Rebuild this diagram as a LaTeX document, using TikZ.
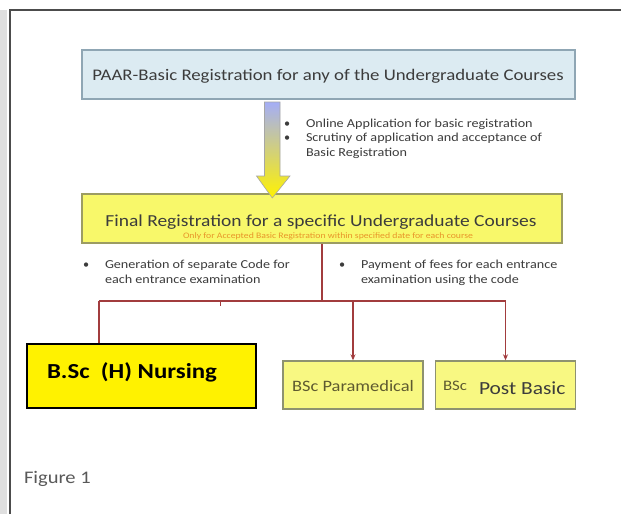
\documentclass[tikz,border=0pt]{standalone}
\usepackage{fontspec}
\usepackage{graphicx}
\setmainfont{Carlito}
\usetikzlibrary{arrows.meta,calc}
\definecolor{boxblue}{HTML}{DCEBF2}
\definecolor{boxblueline}{HTML}{8FA6B4}
\definecolor{finalfill}{HTML}{F8F86A}
\definecolor{finalline}{HTML}{9C9C62}
\definecolor{paleyellow}{HTML}{F8F882}
\definecolor{paleline}{HTML}{8E9270}
\definecolor{conn}{HTML}{A23C3E}
\definecolor{txt}{HTML}{3C3C3C}
\definecolor{subtxt}{HTML}{E8962A}
\definecolor{olivetxt}{HTML}{5E5A30}
\newcommand{\wx}[1]{\scalebox{1.16}[1]{#1}}
\tikzset{
  px/.style={x=1pt,y=-1pt},
  plain/.style={inner sep=0pt,outer sep=0pt},
  bluebox/.style={draw=boxblueline,line width=1.4pt,fill=boxblue,minimum width=493pt,minimum height=49pt,inner sep=0pt},
  finalbox/.style={draw=finalline,line width=1.8pt,fill=finalfill,minimum width=480pt,minimum height=49pt,inner sep=0pt},
  nursebox/.style={draw=black,line width=1.5pt,fill=yellow,minimum width=229pt,minimum height=64pt,inner sep=0pt},
  coursebox/.style={draw=paleline,line width=1.4pt,fill=paleyellow,minimum width=140pt,minimum height=48pt,inner sep=0pt},
  bline/.style={plain,anchor=base west,text=txt,font=\fontsize{12.2}{14}\selectfont},
  connline/.style={draw=conn,line width=1.3pt},
  connarrow/.style={connline,-{Stealth[length=6pt,width=5pt]}}
}
\begin{document}
\begin{tikzpicture}[px]
\useasboundingbox (0,0) rectangle (621,514);
\fill[white] (0,0) rectangle (621,514);
% page frame
\fill[gray!25] (0,10) rectangle (7,514);
\draw[draw=black!70,line width=1.2pt] (10,514) -- (10,10) -- (621,10);

% top box
\node[bluebox] (top) at (328.5,74.5) {};
\node[plain,text=txt,font=\fontsize{16.2}{18}\selectfont] (toptext) at (328,76.5) {\wx{PAAR-Basic Registration for any of the Undergraduate Courses}};

% final box
\node[finalbox] (final) at (322,218.5) {};
\node[plain,text=txt,font=\fontsize{16.8}{18}\selectfont] (finaltitle) at (321,222) {\wx{Final Registration for a specific Undergraduate Courses}};
\node[plain,text=subtxt,font=\fontsize{8.4}{9}\selectfont] (finalsub) at (328,236.5) {\wx{Only for Accepted Basic Registration within specified date for each course}};

% gradient block arrow from top to final
\shade[top color=boxblue!70!blue!90,bottom color=yellow!90!orange,draw=gray!70,line width=0.6pt]
  (264.5,102) -- (280,102) -- (280,176) -- (290,176) -- (272.3,198) -- (256.5,176) -- (264.5,176) -- cycle;

% bullets under top
\node[bline] (t1b) at (284,127) {\textbullet};
\node[bline] (t1) at (306,127) {\wx{Online Application for basic registration}};
\node[bline] (t2b) at (284,141.5) {\textbullet};
\node[bline] (t2) at (306,141.5) {\wx{Scrutiny of application and acceptance of}};
\node[bline] (t3) at (306,156) {\wx{Basic Registration}};

% bullets under final
\node[bline] (l1b) at (83,268) {\textbullet};
\node[bline] (l1) at (105,268) {\wx{Generation of separate Code for}};
\node[bline] (l2) at (105,283) {\wx{each entrance examination}};
\node[bline] (r1b) at (339,268) {\textbullet};
\node[bline] (r1) at (361,268) {\wx{Payment of fees for each entrance}};
\node[bline] (r2) at (361,283) {\wx{examination using the code}};

% course boxes
\node[nursebox] (nursing) at (141.5,376) {};
\node[plain,anchor=west,font=\fontsize{21.4}{24}\bfseries\selectfont] (nursetext) at (47,372) {\wx{B.Sc\ \ (H) Nursing}};
\node[coursebox] (para) at (353,385) {};
\node[plain,text=olivetxt,font=\fontsize{15.9}{18}\selectfont] (paratext) at (353,386) {\wx{BSc Paramedical}};
\node[coursebox] (post) at (505.5,385) {};
\node[plain,anchor=west,text=olivetxt,font=\fontsize{14.5}{16}\selectfont] (postbsc) at (443,386) {\wx{BSc}};
\node[plain,anchor=west,text=txt,font=\fontsize{18.5}{20}\selectfont] (posttext) at (479,388) {\wx{Post Basic}};

% connectors
\coordinate (j) at (final.south |- 0,301);
\coordinate (jl) at (99,301);
\coordinate (jm) at (para.north |- 0,301);
\coordinate (jr) at (post.north |- 0,301);
\coordinate (tick) at (220,301);
\draw[connline] (final.south) -- (j);
\draw[connline] (jl) -- (jr);
\draw[connline] (jl) -- (jl |- nursing.north);
\draw[connarrow] (jm) -- (para.north);
\draw[connarrow] (jr) -- (post.north);
\draw[connline,line width=1pt] (tick) -- ++(0,5);

% caption
\node[plain,anchor=west,text=black!65,font=\fontsize{17.7}{20}\selectfont] (caption) at (24,479) {\wx{Figure 1}};
\end{tikzpicture}
\end{document}
